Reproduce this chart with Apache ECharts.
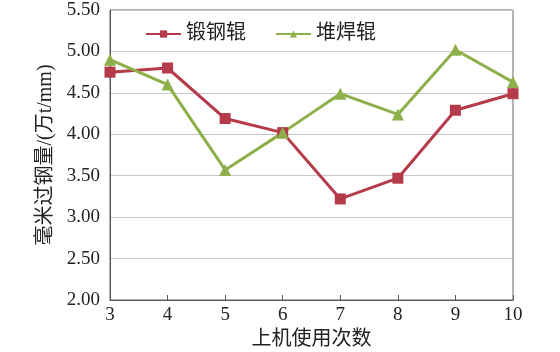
<!DOCTYPE html>
<html><head><meta charset="utf-8">
<script src="https://cdn.jsdelivr.net/npm/echarts@6/dist/echarts.min.js"></script>
<style>html,body{margin:0;padding:0;background:#fff}#c{width:560px;height:352px}</style>
</head><body><div id="c"></div>
<script>
const categories = ['3','4','5','6','7','8','9','10'];
const forged = [4.75, 4.80, 4.19, 4.02, 3.22, 3.47, 4.29, 4.49];
const welded = [4.90, 4.60, 3.57, 4.02, 4.49, 4.24, 5.02, 4.63];
const seriesNames = ['锻钢辊', '堆焊辊'];
const yMin = 2.0, yMax = 5.5, yStep = 0.5;

const serif = '"Liberation Serif", "Times New Roman", "Noto Sans CJK SC", serif';
const chart = echarts.init(document.getElementById('c'));
chart.setOption({
  animation: false,
  backgroundColor: '#fff',
  grid: {left: 110, right: 47, top: 10, bottom: 52, show: true, borderColor: '#666', borderWidth: 1,
    outerBoundsMode: 'none', containLabel: false},
  legend: {
    top: 19, left: 140, itemGap: 29, itemWidth: 35, itemHeight: 9,
    textStyle: {fontFamily: serif, fontSize: 20, color: '#222'},
    data: seriesNames
  },
  xAxis: {
    type: 'category', data: categories, boundaryGap: false,
    name: '上机使用次数', nameLocation: 'middle', nameGap: 30,
    nameTextStyle: {fontFamily: serif, fontSize: 20, color: '#222'},
    axisLine: {lineStyle: {color: '#555', width: 1}},
    axisTick: {inside: true, length: 5, lineStyle: {color: '#555'}},
    axisLabel: {fontFamily: serif, fontSize: 19, color: '#222', margin: 6}
  },
  yAxis: {
    type: 'value', min: yMin, max: yMax, interval: yStep,
    name: '毫米过钢量/(万t/mm)', nameLocation: 'middle', nameGap: 47,
    nameTextStyle: {fontFamily: serif, fontSize: 20, color: '#222'},
    axisLine: {show: true, lineStyle: {color: '#555', width: 1}},
    axisTick: {show: false},
    splitLine: {lineStyle: {color: '#c8c8c8', width: 1}},
    axisLabel: {fontFamily: serif, fontSize: 19, color: '#222', margin: 10,
      formatter: v => v.toFixed(2)}
  },
  series: [
    {name: seriesNames[0], type: 'line', data: forged, symbol: 'rect', symbolSize: 11,
      lineStyle: {color: '#b53a4a', width: 3}, itemStyle: {color: '#b53a4a'}},
    {name: seriesNames[1], type: 'line', data: welded, symbol: 'triangle', symbolSize: 12,
      lineStyle: {color: '#8db04a', width: 3}, itemStyle: {color: '#8db04a'}}
  ]
});
</script></body></html>
